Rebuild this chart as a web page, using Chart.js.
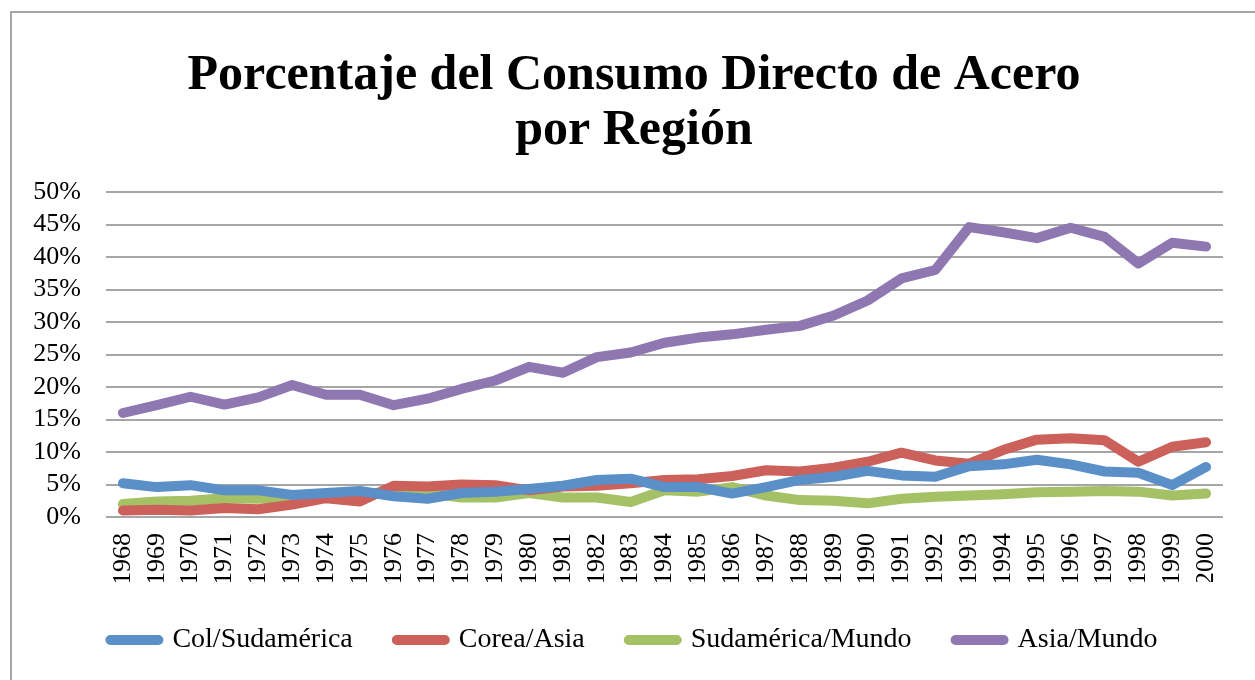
<!DOCTYPE html>
<html>
<head>
<meta charset="utf-8">
<script src="https://cdn.jsdelivr.net/npm/chart.js@4.4.1/dist/chart.umd.min.js"></script>
<style>
  html, body { margin: 0; padding: 0; background: #fff; overflow: hidden; }
  #wrap { position: relative; width: 1255px; height: 680px; overflow: hidden; }
  #frame {
    position: absolute; left: 10px; top: 11px;
    width: 1300px; height: 720px;
    border: 2px solid #a6a6a6;
  }
  canvas { position: absolute; left: 0; top: 0; }
</style>
</head>
<body>
<div id="wrap">
  <div id="frame"></div>
  <canvas id="chart" width="1255" height="680"></canvas>
</div>
<script>
const years = ["1968", "1969", "1970", "1971", "1972", "1973", "1974", "1975", "1976", "1977",
  "1978", "1979", "1980", "1981", "1982", "1983", "1984", "1985", "1986", "1987",
  "1988", "1989", "1990", "1991", "1992", "1993", "1994", "1995", "1996", "1997",
  "1998", "1999", "2000"];

const colSudamerica = [5.2, 4.6, 4.9, 4.1, 4.1, 3.4, 3.7, 4.0, 3.2, 2.8,
  3.7, 3.9, 4.3, 4.8, 5.7, 5.9, 4.6, 4.6, 3.6, 4.6,
  5.7, 6.2, 7.1, 6.4, 6.2, 7.8, 8.1, 8.8, 8.1, 7.0,
  6.8, 4.9, 7.7];

const coreaAsia = [1.0, 1.1, 1.0, 1.4, 1.2, 1.9, 2.9, 2.4, 4.8, 4.7,
  5.0, 4.9, 4.1, 4.7, 4.8, 5.2, 5.7, 5.8, 6.3, 7.2,
  7.0, 7.6, 8.5, 9.9, 8.7, 8.2, 10.3, 11.9, 12.1, 11.8,
  8.5, 10.8, 11.5];

const sudamericaMundo = [2.0, 2.4, 2.5, 2.9, 2.8, 2.9, 3.6, 3.8, 3.4, 3.7,
  3.0, 3.0, 3.7, 3.0, 3.0, 2.3, 4.1, 3.9, 4.6, 3.3,
  2.6, 2.5, 2.1, 2.8, 3.1, 3.3, 3.5, 3.8, 3.9, 4.0,
  3.9, 3.3, 3.6];

const asiaMundo = [16.0, 17.2, 18.5, 17.3, 18.4, 20.3, 18.8, 18.8, 17.2, 18.2,
  19.7, 21.0, 23.1, 22.2, 24.6, 25.3, 26.8, 27.6, 28.1, 28.8,
  29.4, 31.0, 33.3, 36.7, 38.0, 44.6, 43.8, 42.9, 44.5, 43.1,
  39.0, 42.2, 41.6];

const yTicks = [0, 5, 10, 15, 20, 25, 30, 35, 40, 45, 50];

const serif = "'Liberation Serif', 'DejaVu Serif', serif";

function lineSet(label, data, color) {
  return {
    label: label,
    data: data,
    borderColor: color,
    backgroundColor: color,
    borderWidth: 10,
    borderCapStyle: "round",
    borderJoinStyle: "round",
    pointRadius: 0,
    pointHoverRadius: 0,
    tension: 0,
    fill: false
  };
}

const ctx = document.getElementById("chart").getContext("2d");
new Chart(ctx, {
  type: "line",
  data: {
    labels: years,
    datasets: [
      lineSet("Col/Sudamérica", colSudamerica, "#5a8fc8"),
      lineSet("Corea/Asia", coreaAsia, "#cb615a"),
      lineSet("Sudamérica/Mundo", sudamericaMundo, "#a5c166"),
      lineSet("Asia/Mundo", asiaMundo, "#8f77b1")
    ]
  },
  options: {
    responsive: false,
    animation: false,
    layout: { padding: { left: 20, right: 7, top: 49, bottom: 16 } },
    plugins: {
      title: {
        display: true,
        text: ["Porcentaje del Consumo Directo de Acero", "por Región"],
        color: "#000",
        font: { family: serif, size: 50, weight: "bold", lineHeight: 1.1 },
        padding: { top: 0, bottom: 33 }
      },
      legend: {
        position: "bottom",
        labels: {
          color: "#000",
          font: { family: serif, size: 28 },
          boxWidth: 48,
          boxHeight: 0,
          padding: 44
        }
      },
      tooltip: { enabled: false }
    },
    scales: {
      x: {
        offset: true,
        grid: { display: false, drawTicks: false },
        border: { display: false },
        ticks: {
          color: "#000",
          font: { family: serif, size: 26 },
          autoSkip: false,
          minRotation: 90,
          maxRotation: 90,
          padding: 16
        },
        afterFit: (scale) => { scale.height = 65; }
      },
      y: {
        min: 0,
        max: 50,
        grid: { color: "#a6a6a6", lineWidth: 2, drawTicks: false },
        border: { display: false },
        ticks: {
          color: "#000",
          font: { family: serif, size: 26 },
          padding: 25,
          autoSkip: false,
          callback: (v) => v + "%"
        },
        afterBuildTicks: (scale) => { scale.ticks = yTicks.map(v => ({ value: v })); },
        afterFit: (scale) => { scale.width = 86; }
      },
      yRight: {
        position: "right",
        display: true,
        grid: { display: false, drawTicks: false },
        border: { display: false },
        ticks: { display: false },
        afterFit: (scale) => { scale.width = 25; }
      }
    }
  }
});
</script>
</body>
</html>
